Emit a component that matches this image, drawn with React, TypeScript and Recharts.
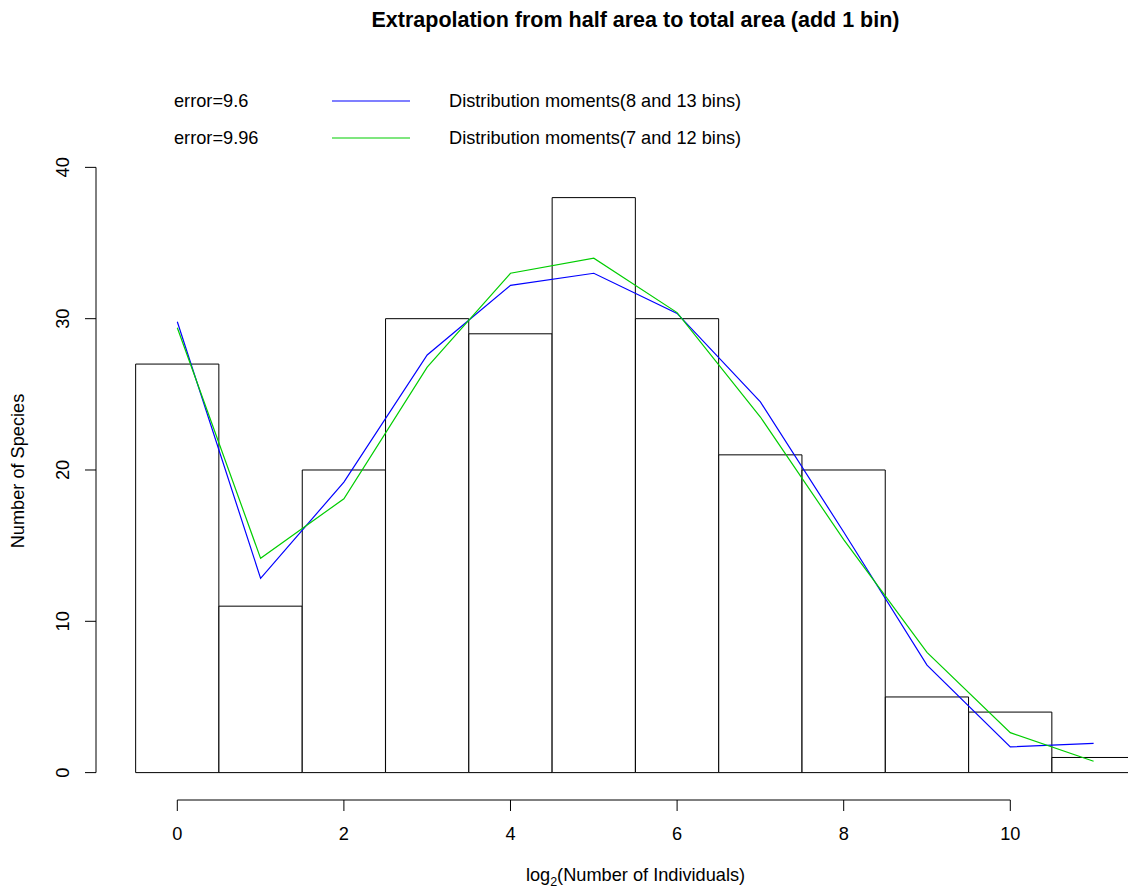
import React from 'react'
import { ComposedChart, Bar, Line, XAxis, YAxis, ReferenceLine } from 'recharts'

// histogram bins (log2 classes) and observed counts
const bins = [0, 1, 2, 3, 4, 5, 6, 7, 8, 9, 10, 11]
const counts = [27, 11, 20, 30, 29, 38, 30, 21, 20, 5, 4, 1]

// fitted curves
const moments8_13 = [29.8, 12.84, 19.2, 27.6, 32.2, 33.0, 30.35, 24.5, 15.9, 7.1, 1.7, 1.93]
const moments7_12 = [29.4, 14.16, 18.1, 26.8, 33.0, 34.0, 30.4, 23.5, 15.4, 7.95, 2.64, 0.75]

const xTicks = [0, 2, 4, 6, 8, 10]
const yTicks = [0, 10, 20, 30, 40]

const legendRows = [
  { error: 'error=9.6', label: 'Distribution moments(8 and 13 bins)', color: '#0000FF' },
  { error: 'error=9.96', label: 'Distribution moments(7 and 12 bins)', color: '#00CD00' }
]

const rows = bins.map((b, i) => ({
  bin: b,
  count: counts[i],
  blue: moments8_13[i],
  green: moments7_12[i]
}))

const FONT = 'Liberation Sans, Arial, Helvetica, sans-serif'
const TXT = 18.2

function XTick(props: any) {
  const { x, payload } = props
  return (
    <text x={x} y={834} textAnchor="middle" dominantBaseline="central" fontSize={TXT} fontFamily={FONT} fill="#000">
      {payload.value}
    </text>
  )
}

function YTick(props: any) {
  const { y, payload } = props
  return (
    <text
      x={63}
      y={y}
      transform={`rotate(-90 63 ${y})`}
      textAnchor="middle"
      dominantBaseline="central"
      fontSize={TXT}
      fontFamily={FONT}
      fill="#000"
    >
      {payload.value}
    </text>
  )
}

export default function App(): React.JSX.Element {
  return (
    <div style={{ position: 'absolute', left: 0, top: 0, width: 1128, height: 888, background: '#fff', fontFamily: FONT, overflow: 'hidden' }}>
      <ComposedChart
        width={1128}
        height={888}
        data={rows}
        barCategoryGap={0}
        barGap={0}
        margin={{ top: 143, right: 0, bottom: 28, left: 36 }}
      >
        <XAxis
          dataKey="bin"
          type="number"
          domain={[-0.976, 11.413]}
          ticks={xTicks}
          height={60}
          axisLine={false}
          tickLine={{ stroke: '#000' }}
          tickSize={11}
          tick={<XTick />}
          interval={0}
        />
        <YAxis
          type="number"
          domain={[-1.81, 41.61]}
          ticks={yTicks}
          width={60}
          axisLine={false}
          tickLine={{ stroke: '#000' }}
          tickSize={11}
          tick={<YTick />}
          interval={0}
        />
        <ReferenceLine
          segment={[{ x: 0, y: -1.81 }, { x: 10, y: -1.81 }]}
          stroke="#000"
          ifOverflow="visible"
        />
        <ReferenceLine
          segment={[{ x: -0.976, y: 0 }, { x: -0.976, y: 40 }]}
          stroke="#000"
          ifOverflow="visible"
        />
        <Bar dataKey="count" barSize={83.2} fill="#fff" stroke="#000" strokeWidth={1} isAnimationActive={false} />
        <Line type="linear" dataKey="blue" stroke="#0000FF" strokeWidth={1.2} dot={false} isAnimationActive={false} />
        <Line type="linear" dataKey="green" stroke="#00CD00" strokeWidth={1.2} dot={false} isAnimationActive={false} />
      </ComposedChart>

      <div style={{ position: 'absolute', left: 0, width: 1271, top: 6, textAlign: 'center', fontSize: 21.5, fontWeight: 'bold', lineHeight: '28px', whiteSpace: 'nowrap' }}>
        Extrapolation from half area to total area (add 1 bin)
      </div>

      {legendRows.map((r, i) => (
        <div key={r.label} style={{ position: 'absolute', top: 88 + i * 37, left: 0, height: 26, width: 1000, fontSize: TXT, lineHeight: '26px', whiteSpace: 'nowrap' }}>
          <span style={{ position: 'absolute', left: 174 }}>{r.error}</span>
          <svg style={{ position: 'absolute', left: 332, top: 8 }} width={78} height={10}>
            <line x1={0} y1={5} x2={78} y2={5} stroke={r.color} strokeWidth={1.2} />
          </svg>
          <span style={{ position: 'absolute', left: 449 }}>{r.label}</span>
        </div>
      ))}

      <div style={{ position: 'absolute', left: 0, width: 1271, top: 862, textAlign: 'center', fontSize: TXT, lineHeight: '26px', whiteSpace: 'nowrap' }}>
        log<sub style={{ fontSize: 12.5 }}>2</sub>(Number of Individuals)
      </div>

      <div
        style={{
          position: 'absolute',
          left: 18,
          top: 471,
          transform: 'translate(-50%, -50%) rotate(-90deg)',
          fontSize: TXT,
          whiteSpace: 'nowrap'
        }}
      >
        Number of Species
      </div>
    </div>
  )
}
